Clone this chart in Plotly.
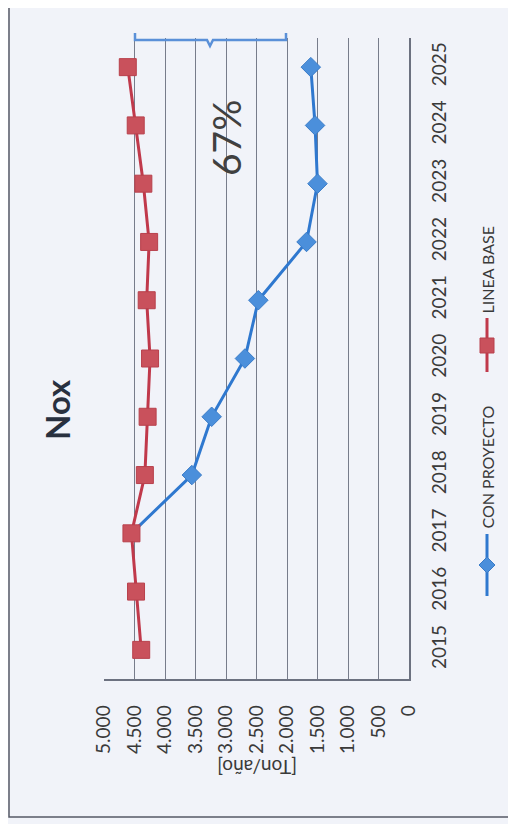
import plotly.graph_objects as go

years = [2015, 2016, 2017, 2018, 2019, 2020, 2021, 2022, 2023, 2024, 2025]
linea_base = [4390, 4475, 4550, 4330, 4285, 4245, 4300, 4260, 4355, 4480, 4610]
con_proyecto_years = [2017, 2018, 2019, 2020, 2021, 2022, 2023, 2024, 2025]
con_proyecto = [4550, 3560, 3235, 2690, 2470, 1680, 1500, 1540, 1610]
value_ticks = [0, 500, 1000, 1500, 2000, 2500, 3000, 3500, 4000, 4500, 5000]
value_labels = ["0", "500", "1.000", "1.500", "2.000", "2.500", "3.000", "3.500", "4.000", "4.500", "5.000"]
title_text = "Nox"
axis_title = "[Ton/año]"
reduction_label = "67%"
legend_names = ["CON PROYECTO", "LINEA BASE"]

OFF = 8  # default page body margin
W, H = 516 - OFF, 824 - OFF
L, R, T, B = 104, 409, 38, 679  # plot area in page pixels


def px(x):
    return (x - L) / (R - L)


def py(y):
    return (B - y) / (B - T)


FONT = "Lato, 'Open Sans', sans-serif"
TXT = "#3a3a3a"
GRID = "#777c8b"
BG = "#f1f3f9"
RED_L = "#c0394b"
RED_M = "#c9515c"
BLUE_L = "#2f78cf"
BLUE_M = "#4b8fdb"

# first blue point sits under the red square (hidden in the original)
blue_sizes = [0] + [15] * (len(con_proyecto) - 1)

fig = go.Figure()
fig.add_trace(go.Scatter(
    x=con_proyecto, y=con_proyecto_years, mode="lines+markers", name=legend_names[0],
    line=dict(color=BLUE_L, width=3),
    marker=dict(symbol="diamond", size=blue_sizes, opacity=1, color=BLUE_M,
                line=dict(color="#3a7cc8", width=1)),
))
fig.add_trace(go.Scatter(
    x=linea_base, y=years, mode="lines+markers", name=legend_names[1],
    line=dict(color=RED_L, width=3),
    marker=dict(symbol="square", size=17, opacity=1, color=RED_M, line=dict(color="#b8404c", width=1)),
))

shapes = []
# outer frame
shapes.append(dict(type="rect", xref="paper", yref="paper",
                   x0=px(9), x1=px(540), y0=py(817), y1=py(-20),
                   line=dict(color="#555a66", width=1.5), layer="below"))
# brace (bracket) at top
bx0, bx1, bmid = 135, 286, 210
path = (f"M {px(bx0)},{py(33)} L {px(bx0)},{py(40)} L {px(bmid-3)},{py(40)} "
        f"L {px(bmid)},{py(46)} L {px(bmid+3)},{py(40)} L {px(bx1)},{py(40)} L {px(bx1)},{py(33)}")
shapes.append(dict(type="path", xref="paper", yref="paper", path=path,
                   line=dict(color="#5a90d8", width=2.5)))
# legend markers
lx = 487
shapes.append(dict(type="line", xref="paper", yref="paper", x0=px(lx), x1=px(lx),
                   y0=py(372), y1=py(318), line=dict(color=RED_L, width=3)))
shapes.append(dict(type="rect", xref="paper", yref="paper", x0=px(lx-7), x1=px(lx+7),
                   y0=py(353), y1=py(338), fillcolor=RED_M, line=dict(color="#b8404c", width=1)))
shapes.append(dict(type="line", xref="paper", yref="paper", x0=px(lx), x1=px(lx),
                   y0=py(596), y1=py(534), line=dict(color=BLUE_L, width=3)))
dpath = (f"M {px(lx)},{py(557)} L {px(lx+8)},{py(565)} L {px(lx)},{py(573)} "
         f"L {px(lx-8)},{py(565)} Z")
shapes.append(dict(type="path", xref="paper", yref="paper", path=dpath,
                   fillcolor=BLUE_M, line=dict(color="#3a7cc8", width=1)))

annotations = [
    dict(text=f"<b>{title_text}</b>", xref="paper", yref="paper", x=px(57), y=py(410),
         xanchor="center", yanchor="middle",
         textangle=-90, showarrow=False, font=dict(family=FONT, size=33, color="#28303f")),
    dict(text=reduction_label, xref="paper", yref="paper", x=px(226), y=py(138),
         xanchor="center", yanchor="middle",
         textangle=-90, showarrow=False, font=dict(family=FONT, size=39, color="#404040")),
    dict(text=axis_title, xref="paper", yref="paper", x=px(257), y=py(768),
         xanchor="center", yanchor="middle",
         textangle=180, showarrow=False, font=dict(family=FONT, size=19, color=TXT)),
    dict(text=legend_names[1], xref="paper", yref="paper", x=px(487), y=py(316),
         xanchor="center", yanchor="bottom", textangle=-90, showarrow=False,
         font=dict(family=FONT, size=16, color=TXT)),
    dict(text=legend_names[0], xref="paper", yref="paper", x=px(487), y=py(531),
         xanchor="center", yanchor="bottom", textangle=-90, showarrow=False,
         font=dict(family=FONT, size=16, color=TXT)),
]

fig.update_layout(
    width=W, height=H,
    margin=dict(l=L - OFF, r=W - (R - OFF), t=T - OFF, b=H - (B - OFF), pad=0),
    paper_bgcolor=BG, plot_bgcolor=BG,
    showlegend=False,
    font=dict(family=FONT, size=19, color=TXT),
    shapes=shapes, annotations=annotations,
    xaxis=dict(range=[5000, 0], tickvals=value_ticks, ticktext=value_labels,
               tickangle=-90, showgrid=True, gridcolor=GRID, gridwidth=1,
               zeroline=False, showline=True, linecolor="#6c7180", linewidth=1.5,
               ticks="", ticklabelstandoff=17, fixedrange=True),
    yaxis=dict(range=[2014.5, 2025.5], tickvals=years, ticktext=[str(y) for y in years],
               side="right", tickangle=-90, showgrid=False, zeroline=False,
               showline=True, linecolor="#6c7180", linewidth=1.5,
               ticks="", ticklabelstandoff=12, fixedrange=True),
)

fig.write_html("out.html")
